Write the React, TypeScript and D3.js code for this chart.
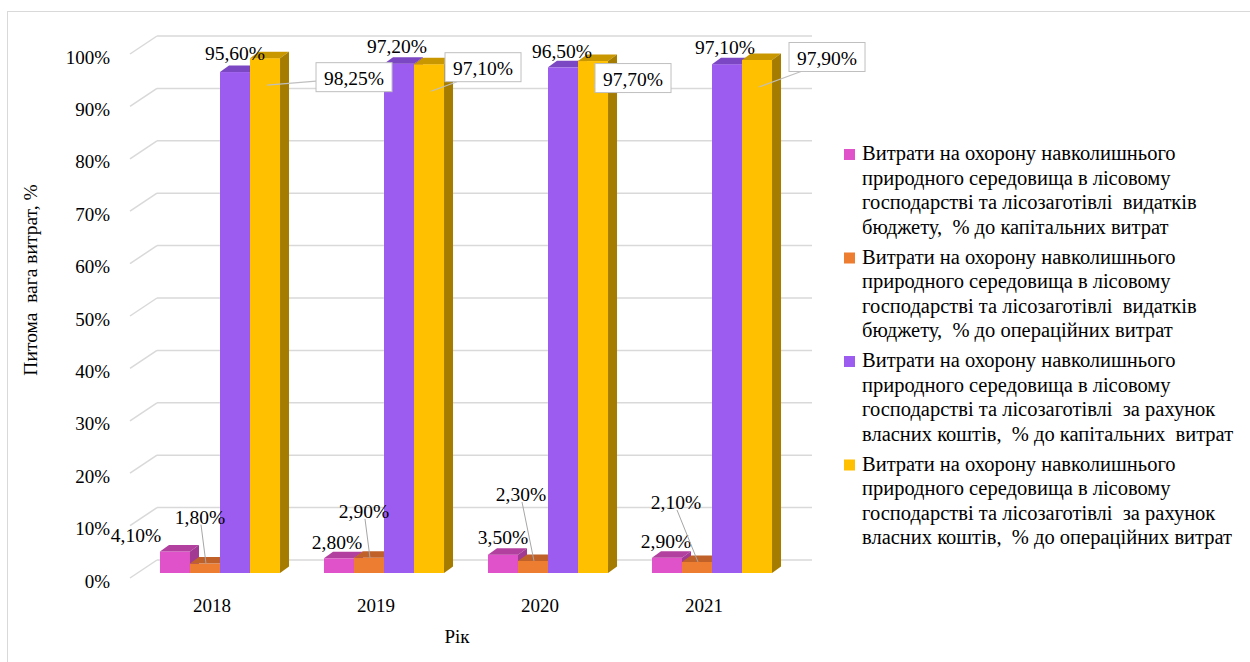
import React from "react";
import * as d3 from "d3";

const years = ["2018", "2019", "2020", "2021"];
const seriesNames = [
  "Витрати на охорону навколишнього природного середовища в лісовому господарстві та лісозаготівлі видатків бюджету, % до капітальних витрат",
  "Витрати на охорону навколишнього природного середовища в лісовому господарстві та лісозаготівлі видатків бюджету, % до операційних витрат",
  "Витрати на охорону навколишнього природного середовища в лісовому господарстві та лісозаготівлі за рахунок власних коштів, % до капітальних витрат",
  "Витрати на охорону навколишнього природного середовища в лісовому господарстві та лісозаготівлі за рахунок власних коштів, % до операційних витрат",
];
const legendLines = [
  ["Витрати на охорону навколишнього", "природного середовища в лісовому", "господарстві та лісозаготівлі  видатків", "бюджету,  % до капітальних витрат"],
  ["Витрати на охорону навколишнього", "природного середовища в лісовому", "господарстві та лісозаготівлі  видатків", "бюджету,  % до операційних витрат"],
  ["Витрати на охорону навколишнього", "природного середовища в лісовому", "господарстві та лісозаготівлі  за рахунок", "власних коштів,  % до капітальних  витрат"],
  ["Витрати на охорону навколишнього", "природного середовища в лісовому", "господарстві та лісозаготівлі  за рахунок", "власних коштів,  % до операційних витрат"],
];
const capBudget = [4.1, 2.8, 3.5, 2.9];
const opBudget = [1.8, 2.9, 2.3, 2.1];
const capOwn = [95.6, 97.2, 96.5, 97.1];
const opOwn = [98.25, 97.1, 97.7, 97.9];
const seriesValues = [capBudget, opBudget, capOwn, opOwn];
const yTicks = [0, 10, 20, 30, 40, 50, 60, 70, 80, 90, 100];

// styles
const colors = [
  { front: "#E052C9", top: "#B2409F", side: "#A23A93" },
  { front: "#ED7D31", top: "#C0612A", side: "#B35A25" },
  { front: "#9B5CEF", top: "#7B47C2", side: "#6E3FB0" },
  { front: "#FFC000", top: "#C99800", side: "#A67C00" },
];
// label offsets relative to the front-top centre of each bar [series][year]
const labelOffsets = [
  [[-39, -16], [-2, -16], [0, -17], [-1, -16]],
  [[-5, -46], [-5, -46], [-12, -66], [-21, -59]],
  [[0, -19], [-2, -17], [-1, -16], [-2, -17]],
  [[89, 19], [54, 3], [40, 17], [70, -3]],
];
const FONT = "'Liberation Serif', 'Times New Roman', serif";
const DX = 9;
const DY = -6.5;

const fmt = (v: number) => d3.format(".2f")(v).replace(".", ",") + "%";

export default function App() {
  const W = 1250;
  const H = 662;
  const yBar = d3.scaleLinear().domain([0, 100]).range([573, 49]);
  const yBack = d3.scaleLinear().domain([0, 100]).range([560, 36]);
  const yFront = d3.scaleLinear().domain([0, 100]).range([578, 54]);
  const x = d3.scaleBand<string>().domain(years).range([138, 794]).paddingInner(0.268).paddingOuter(0.134);
  const xs = d3.scaleBand<number>().domain([0, 1, 2, 3]).range([0, x.bandwidth()]);
  const backLeft = 157;
  const backRight = 812;
  const frontLeft = 130;
  const gridColor = "#d9d9d9";

  const bars: any[] = [];
  const labels: any[] = [];
  years.forEach((yr, j) => {
    seriesValues.forEach((vals, s) => {
      const v = vals[j];
      const bx = (x(yr) as number) + (xs(s) as number);
      const w = xs.bandwidth();
      const top = yBar(v);
      const bottom = yBar(0);
      const c = colors[s];
      bars.push(
        <g key={`b${s}${j}`}>
          <rect x={bx} y={top} width={w} height={bottom - top} fill={c.front} />
          <polygon points={`${bx},${top} ${bx + DX},${top + DY} ${bx + w + DX},${top + DY} ${bx + w},${top}`} fill={c.top} />
          <polygon points={`${bx + w},${top} ${bx + w + DX},${top + DY} ${bx + w + DX},${bottom + DY} ${bx + w},${bottom}`} fill={c.side} />
        </g>
      );
      const cx = bx + w / 2;
      const [ox, oy] = labelOffsets[s][j];
      const lx = cx + ox;
      const ly = top + oy;
      const txt = fmt(v);
      if (s === 3) {
        const bw = 76;
        const bh = 29;
        const left = lx - bw / 2;
        const tp = ly - bh / 2;
        const ax = cx + 2;
        const ay = top + 27;
        const ey = Math.max(tp + 4, Math.min(tp + bh, ay - 4));
        const ex = ay > tp + bh ? left + 12 : left;
        labels.push(
          <g key={`l${s}${j}`}>
            <line x1={ax} y1={ay} x2={ex} y2={ey} stroke="#bfbfbf" strokeWidth={1.2} />
            <rect x={left} y={tp} width={bw} height={bh} fill="#fff" stroke="#bfbfbf" strokeWidth={1} />
            <text x={lx} y={ly + 1} textAnchor="middle" dominantBaseline="central" fontSize={19.5} fontFamily={FONT} fill="#000">{txt}</text>
          </g>
        );
      } else {
        labels.push(
          <g key={`l${s}${j}`}>
            {s === 1 && (
              <line x1={lx + 1} y1={ly + 7} x2={cx + 1} y2={top} stroke="#a6a6a6" strokeWidth={1} />
            )}
            <text x={lx} y={ly} textAnchor="middle" dominantBaseline="central" fontSize={19.5} fontFamily={FONT} fill="#000">{txt}</text>
          </g>
        );
      }
    });
  });

  return (
    <svg width={W} height={H} style={{ position: "absolute", left: 0, top: 0, background: "#fff" }}>
      <rect x={7.5} y={11.5} width={1300} height={700} fill="#fff" stroke={gridColor} strokeWidth={1} />
      {yTicks.map((t) => (
        <g key={`g${t}`}>
          <line x1={backLeft} x2={backRight} y1={yBack(t)} y2={yBack(t)} stroke={gridColor} strokeWidth={1.5} />
          <line x1={frontLeft} x2={backLeft} y1={yFront(t)} y2={yBack(t)} stroke={gridColor} strokeWidth={1.5} />
          <text x={110} y={yFront(t) + 3} textAnchor="end" dominantBaseline="central" fontSize={19} fontFamily={FONT} fill="#000">{`${t}%`}</text>
        </g>
      ))}
      {bars}
      {labels}
      {years.map((yr) => (
        <text key={`x${yr}`} x={(x(yr) as number) + x.bandwidth() / 2 - 8} y={605} textAnchor="middle" dominantBaseline="central" fontSize={19} fontFamily={FONT} fill="#000">{yr}</text>
      ))}
      <text x={457} y={636} textAnchor="middle" dominantBaseline="central" fontSize={19} fontFamily={FONT} fill="#000">Рік</text>
      <text transform={`translate(30,280) rotate(-90)`} textAnchor="middle" dominantBaseline="central" fontSize={19.5} fontFamily={FONT} fill="#000" style={{ whiteSpace: "pre" }}>{"Питома  вага витрат, %"}</text>
      {seriesNames.map((name, i) => {
        const y0 = 153 + i * 103.5;
        return (
          <g key={`lg${i}`}>
            <title>{name}</title>
            <rect x={844} y={y0 - 4} width={11} height={11} fill={colors[i].front} />
            <text x={862} fontSize={20.5} fontFamily={FONT} fill="#000" style={{ whiteSpace: "pre" }}>
              {legendLines[i].map((ln, k) => (
                <tspan key={k} x={862} y={y0 + k * 24.5} dominantBaseline="central">{ln}</tspan>
              ))}
            </text>
          </g>
        );
      })}
    </svg>
  );
}
